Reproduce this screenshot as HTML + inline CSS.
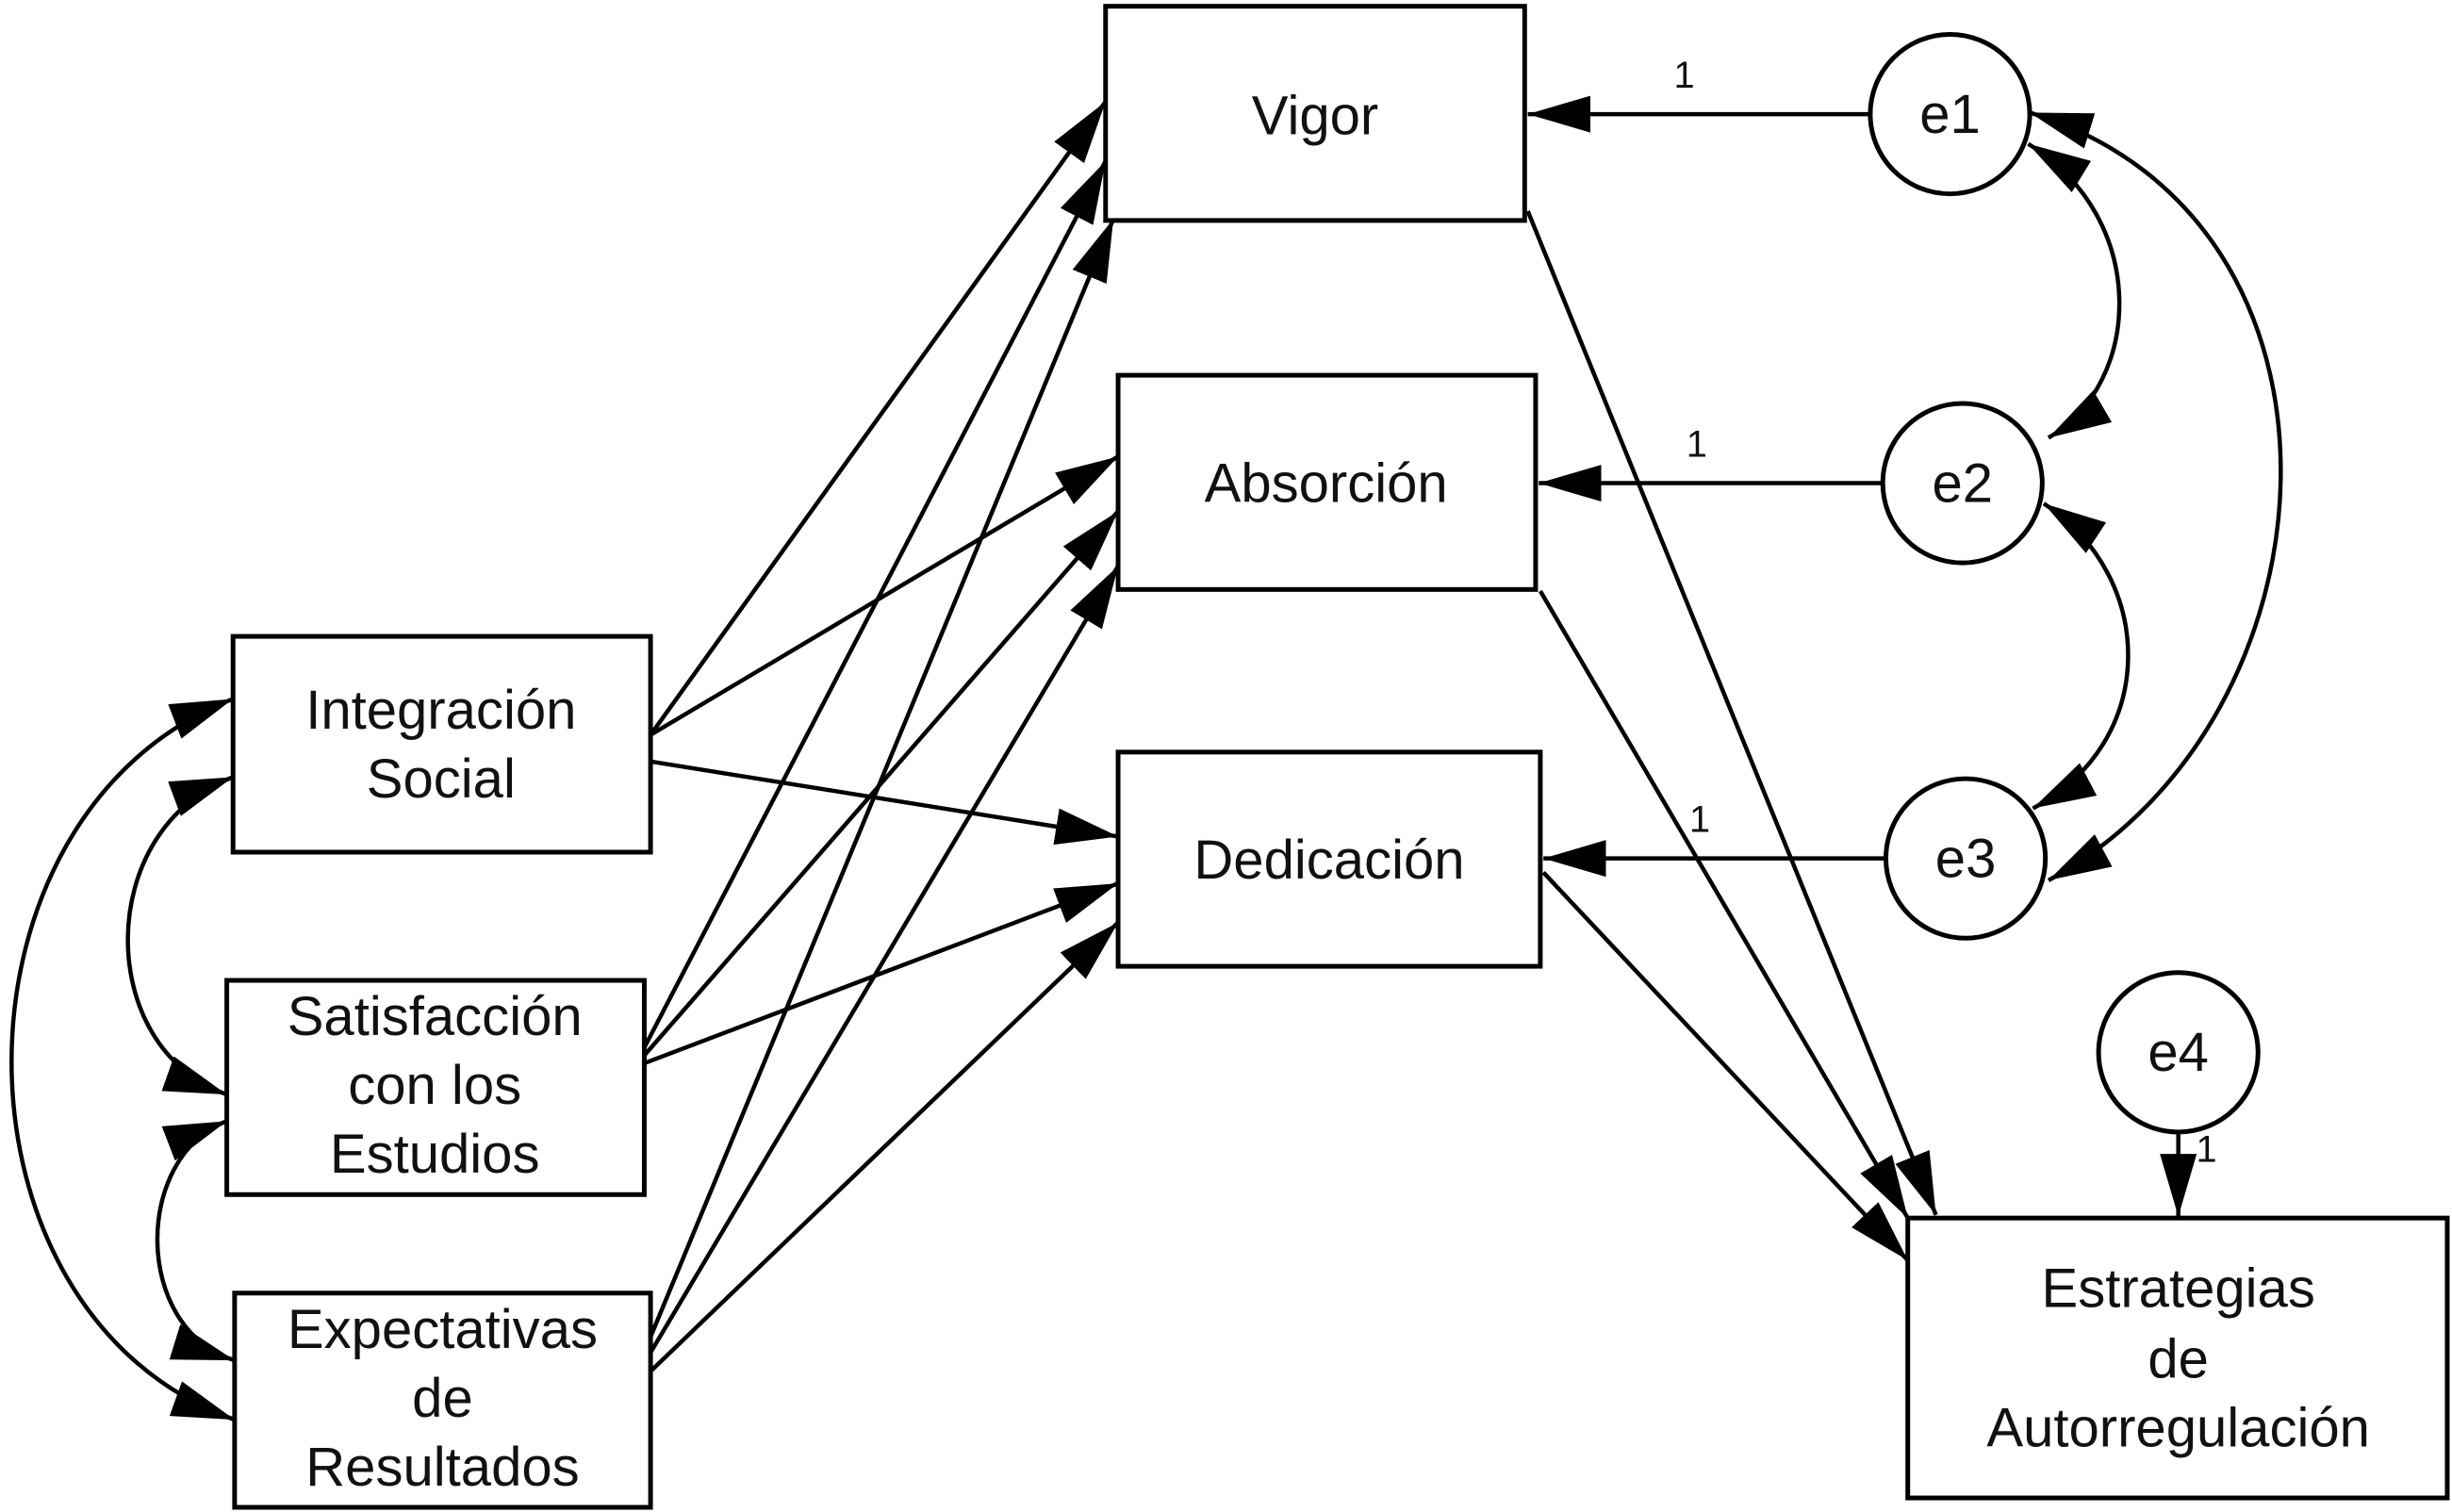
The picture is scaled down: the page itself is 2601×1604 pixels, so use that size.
<!DOCTYPE html>
<html><head><meta charset="utf-8"><style>
html,body{margin:0;padding:0;background:#fff;}
svg{display:block;}
text{font-family:"Liberation Sans",Arial,sans-serif;fill:#111;}
</style></head><body>
<svg width="2601" height="1604" viewBox="0 0 1568 967" xmlns="http://www.w3.org/2000/svg">
<defs>
<marker id="a" markerUnits="userSpaceOnUse" markerWidth="40" markerHeight="24" refX="34" refY="10" orient="auto-start-reverse" viewBox="0 0 34 20">
<path d="M0,0 L34,10 L0,20 Z" fill="#000"/>
</marker>
</defs>
<g fill="#fff" stroke="#000" stroke-width="3">
<rect x="707" y="4" width="268" height="137"/>
<rect x="715" y="240" width="267" height="137"/>
<rect x="715" y="481" width="270" height="137"/>
<rect x="149" y="407" width="267" height="138"/>
<rect x="145" y="627" width="267" height="137"/>
<rect x="150" y="827" width="266" height="137"/>
<rect x="1220" y="779" width="345" height="179"/>
<circle cx="1247" cy="73" r="51"/>
<circle cx="1255" cy="309" r="51"/>
<circle cx="1257" cy="549" r="51"/>
<circle cx="1393" cy="673" r="51"/>
</g>
<g stroke="#000" stroke-width="2.7" fill="none" marker-end="url(#a)">
<line x1="1196" y1="73" x2="977" y2="73"/>
<line x1="1204" y1="309" x2="984" y2="309"/>
<line x1="1206" y1="549" x2="987" y2="549"/>
<line x1="1393" y1="724" x2="1393" y2="778"/>
<line x1="977" y1="135" x2="1238" y2="777"/>
<line x1="985" y1="378" x2="1220" y2="779"/>
<line x1="987" y1="558" x2="1220" y2="806"/>
<line x1="416" y1="470" x2="707" y2="65"/>
<line x1="416" y1="470" x2="715" y2="292"/>
<line x1="416" y1="487" x2="715" y2="535"/>
<line x1="412" y1="670" x2="707" y2="103"/>
<line x1="412" y1="675" x2="715" y2="327"/>
<line x1="412" y1="680" x2="715" y2="565"/>
<line x1="416" y1="855" x2="712" y2="140"/>
<line x1="416" y1="865" x2="715" y2="362"/>
<line x1="416" y1="877" x2="715" y2="590"/>
<path d="M1297,92 C1375,140 1370,245 1310,280" marker-start="url(#a)"/>
<path d="M1307,322 C1380,370 1380,475 1300,517" marker-start="url(#a)"/>
<path d="M1298,72 C1520,140 1500,460 1310,563" marker-start="url(#a)"/>
<path d="M149,497 C60,530 60,670 145,700" marker-start="url(#a)"/>
<path d="M145,717 C85,740 85,850 150,870" marker-start="url(#a)"/>
<path d="M149,447 C-40,520 -40,840 150,908" marker-start="url(#a)"/>
</g>
<g font-size="35" text-anchor="middle">
<text x="841" y="86">Vigor</text>
<text x="848" y="321">Absorción</text>
<text x="850" y="562">Dedicación</text>
<text x="282" y="466">Integración</text>
<text x="282" y="510">Social</text>
<text x="278" y="662">Satisfacción</text>
<text x="278" y="706">con los</text>
<text x="278" y="750">Estudios</text>
<text x="283" y="862">Expectativas</text>
<text x="283" y="906">de</text>
<text x="283" y="950">Resultados</text>
<text x="1393" y="836">Estrategias</text>
<text x="1393" y="881">de</text>
<text x="1393" y="925">Autorregulación</text>
<text x="1247" y="85">e1</text>
<text x="1255" y="321">e2</text>
<text x="1257" y="561">e3</text>
<text x="1393" y="685">e4</text>
</g>
<g font-size="24" text-anchor="middle">
<text x="1077" y="56">1</text>
<text x="1085" y="292">1</text>
<text x="1087" y="532">1</text>
<text x="1411" y="743">1</text>
</g>
</svg>
</body></html>
